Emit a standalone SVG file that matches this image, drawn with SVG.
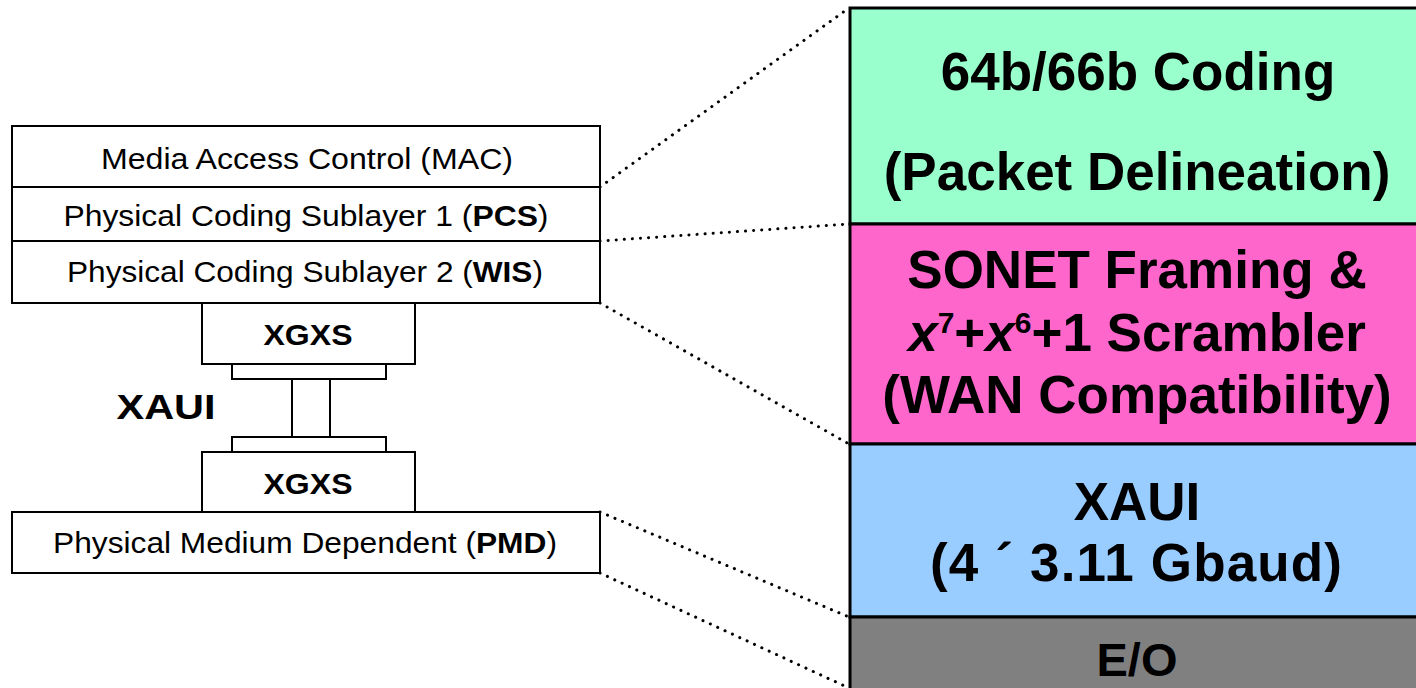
<svg xmlns="http://www.w3.org/2000/svg" width="1416" height="688" viewBox="0 0 1416 688">
  <style>
    .box { fill: #ffffff; stroke: #000000; stroke-width: 2; }
    .band { stroke: #000000; stroke-width: 3; }
    .dots { fill: none; stroke: #000000; stroke-width: 3; stroke-linecap: round; stroke-dasharray: 0.1 8; }
    .lbl { font-family: "Liberation Sans", Arial, sans-serif; font-size: 30px; fill: #000000; text-anchor: middle; }
    .bold { font-weight: bold; }
    .big { font-family: "Liberation Sans", Arial, sans-serif; font-size: 53px; font-weight: bold; fill: #000000; text-anchor: middle; }
    .sm { font-family: "Liberation Sans", Arial, sans-serif; font-size: 30px; font-weight: bold; fill: #000000; text-anchor: middle; }
  </style>

  <!-- dotted zoom lines from the left stack to the right bands -->
  <g id="connectors">
    <line class="dots" x1="600" y1="187" x2="849" y2="8"/>
    <line class="dots" x1="600" y1="241" x2="849" y2="224"/>
    <line class="dots" x1="600" y1="303" x2="849" y2="444"/>
    <line class="dots" x1="600" y1="512" x2="849" y2="617"/>
    <line class="dots" x1="600" y1="573" x2="849" y2="688"/>
  </g>

  <!-- left protocol stack -->
  <g id="mac">
    <rect class="box" x="12" y="126" width="588" height="61"/>
    <text class="lbl" x="307" y="169" textLength="412" lengthAdjust="spacingAndGlyphs">Media Access Control (MAC)</text>
  </g>
  <g id="pcs">
    <rect class="box" x="12" y="187" width="588" height="54"/>
    <text class="lbl" x="306" y="226" textLength="485" lengthAdjust="spacingAndGlyphs">Physical Coding Sublayer 1 (<tspan class="bold">PCS</tspan>)</text>
  </g>
  <g id="wis">
    <rect class="box" x="12" y="241" width="588" height="62"/>
    <text class="lbl" x="305" y="282" textLength="476" lengthAdjust="spacingAndGlyphs">Physical Coding Sublayer 2 (<tspan class="bold">WIS</tspan>)</text>
  </g>
  <g id="xgxs-top">
    <rect class="box" x="202" y="303" width="213" height="61"/>
    <text class="sm" x="308" y="345" textLength="89" lengthAdjust="spacingAndGlyphs">XGXS</text>
  </g>
  <g id="xaui-link">
    <rect class="box" x="232" y="364" width="154" height="15"/>
    <rect class="box" x="292" y="379" width="38" height="58"/>
    <rect class="box" x="232" y="437" width="154" height="15"/>
  </g>
  <g id="xaui-label">
    <text class="sm" x="166" y="419" style="font-size:35px" textLength="99" lengthAdjust="spacingAndGlyphs">XAUI</text>
  </g>
  <g id="xgxs-bottom">
    <rect class="box" x="202" y="452" width="213" height="60"/>
    <text class="sm" x="308" y="494" textLength="89" lengthAdjust="spacingAndGlyphs">XGXS</text>
  </g>
  <g id="pmd">
    <rect class="box" x="12" y="512" width="588" height="61"/>
    <text class="lbl" x="305" y="553" textLength="504" lengthAdjust="spacingAndGlyphs">Physical Medium Dependent (<tspan class="bold">PMD</tspan>)</text>
  </g>

  <!-- right detail column -->
  <g id="coding">
    <rect class="band" x="850" y="8" width="580" height="216" fill="#99FFCC"/>
    <text class="big" x="1138" y="90">64b/66b Coding</text>
    <text class="big" x="1137" y="190">(Packet Delineation)</text>
  </g>
  <g id="sonet">
    <rect class="band" x="850" y="224" width="580" height="220" fill="#FF66CC"/>
    <text class="big" x="1137" y="288">SONET Framing &amp;</text>
    <text class="big" x="1137" y="351"><tspan font-style="italic">x</tspan><tspan font-size="30" dy="-18">7</tspan><tspan dy="18">+</tspan><tspan font-style="italic">x</tspan><tspan font-size="30" dy="-18">6</tspan><tspan dy="18">+1 Scrambler</tspan></text>
    <text class="big" x="1137" y="413">(WAN Compatibility)</text>
  </g>
  <g id="xaui">
    <rect class="band" x="850" y="444" width="580" height="173" fill="#99CCFF"/>
    <text class="big" x="1137" y="520">XAUI</text>
    <text class="big" x="1136" y="581" textLength="412" lengthAdjust="spacing">(4 ´ 3.11 Gbaud)</text>
  </g>
  <g id="eo">
    <rect class="band" x="850" y="617" width="580" height="80" fill="#808080"/>
    <text class="big" x="1137" y="676" style="font-size:47px">E/O</text>
  </g>
</svg>
